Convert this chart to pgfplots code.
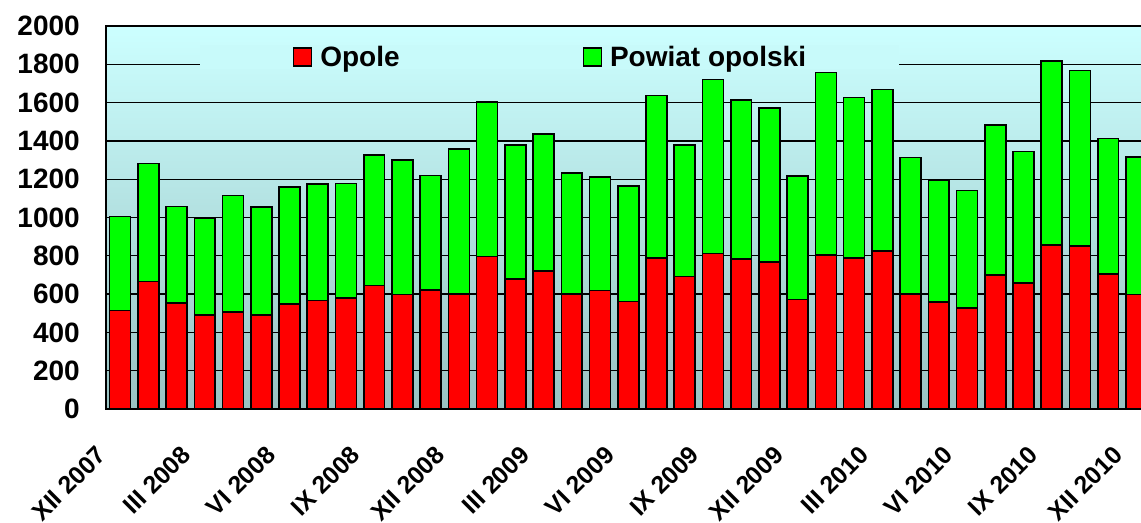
\documentclass[border=0pt]{standalone}
\usepackage{pgfplots}
\pgfplotsset{compat=1.18}
\usepackage{pgfplotstable}
\usepackage{fontspec}
\setmainfont{Liberation Sans}
\definecolor{bgtop}{HTML}{CCFFFF}
\definecolor{bgbot}{HTML}{99C2C2}
\definecolor{barred}{HTML}{FF0000}
\definecolor{bargreen}{HTML}{00FF00}
\pgfplotstableread{
x opole powiat
0 515 490
1 666 617
2 553 505
3 491 506
4 508 607
5 491 563
6 548 612
7 566 608
8 581 596
9 644 682
10 597 702
11 623 596
12 602 757
13 796 808
14 678 701
15 720 717
16 602 629
17 618 594
18 562 602
19 790 847
20 691 688
21 812 908
22 784 829
23 769 802
24 571 646
25 805 952
26 790 837
27 824 844
28 602 712
29 558 635
30 526 615
31 701 782
32 659 685
33 857 959
34 850 917
35 704 709
36 597 719
}\datatable
\begin{document}
\begin{tikzpicture}
\begin{axis}[
  scale only axis,
  width=783.4pt, height=287.25pt,
  ybar stacked, bar width=0.74,
  xmin=-0.5, xmax=36.5, ymin=0, ymax=2000,
  enlarge x limits=false,
  xtick={0,3,...,36},
  xticklabels={XII 2007,III 2008,VI 2008,IX 2008,XII 2008,III 2009,VI 2009,IX 2009,XII 2009,III 2010,VI 2010,IX 2010,XII 2010},
  ytick={0,200,...,2000},
  major tick length=0pt,
  ymajorgrids,
  grid style={black, line width=1pt},
  axis line style={black, line width=1.5pt},
  axis background/.style={top color=bgtop, bottom color=bgbot},
  /pgf/number format/assume math mode=true,
  /pgf/number format/1000 sep={},
  yticklabel style={font=\fontsize{21}{25}\selectfont\bfseries, anchor=east, inner sep=0pt, xshift=-19.5pt},
  xticklabel style={font=\fontsize{18.6}{22}\selectfont\bfseries, xshift=-18.5pt, yshift=-26.5pt, rotate=45, anchor=north east, inner sep=0pt},
  legend columns=2,
  legend image code/.code={\draw[#1, line width=1pt] (0pt,-6.75pt) rectangle (13.5pt,6.75pt);},
  legend style={at={(rel axis cs:0.4246,0.919)}, anchor=center,
    draw=none, fill=bgtop!92!bgbot,
    inner xsep=69.75pt, inner ysep=1pt,
    font=\fontsize{21}{25}\selectfont\bfseries,
    nodes={inner sep=0pt, anchor=west},
    column sep=6pt,
    /tikz/every even column/.append style={column sep=137.25pt}},
]
\addplot[fill=barred, draw=black, line width=1.2pt] table[x=x, y=opole] {\datatable};
\addplot[fill=bargreen, draw=black, line width=1.2pt] table[x=x, y=powiat] {\datatable};
\legend{Opole, Powiat opolski}
\end{axis}
\pgfresetboundingbox
\useasboundingbox ([xshift=-79.5pt,yshift=-84.75pt]current axis.south west) rectangle ([xshift=776.25pt,yshift=19.5pt]current axis.north west);
\end{tikzpicture}
\end{document}
